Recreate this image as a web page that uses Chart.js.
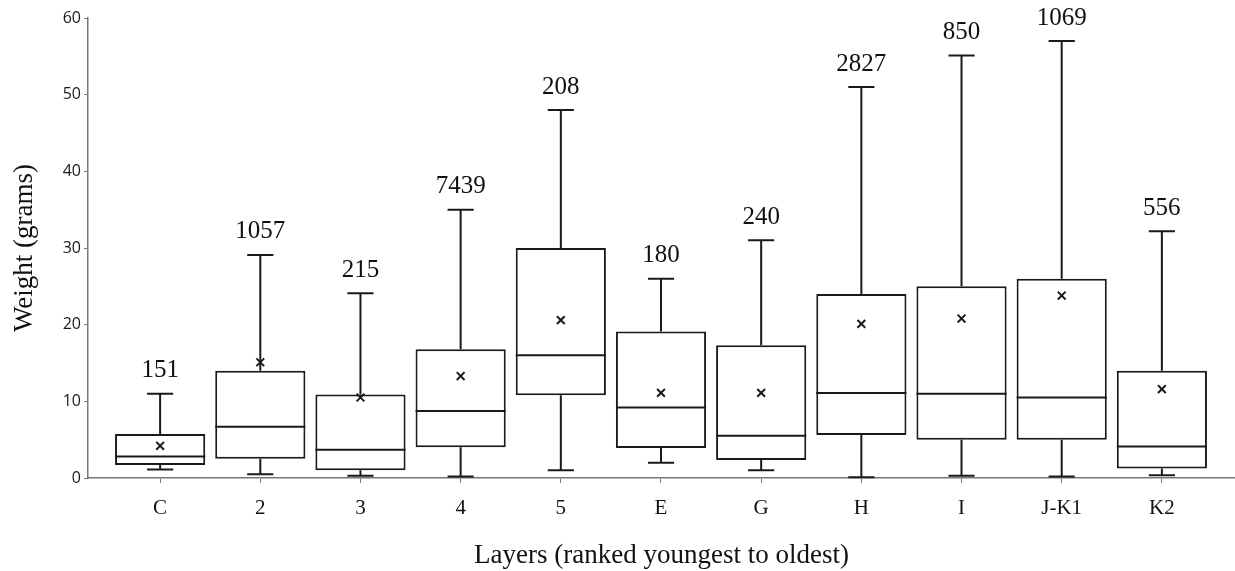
<!DOCTYPE html>
<html>
<head>
<meta charset="utf-8">
<script src="https://cdn.jsdelivr.net/npm/chart.js@4/dist/chart.umd.min.js"></script>
<style>
  html, body { margin: 0; padding: 0; background: #fff; }
  #wrap { width: 1235px; height: 571px; }
</style>
</head>
<body>
<div id="wrap"><canvas id="c" width="1235" height="571"></canvas></div>
<script>
const categories = ['C', '2', '3', '4', '5', 'E', 'G', 'H', 'I', 'J-K1', 'K2'];
const whiskerMin = [1.1, 0.5, 0.3, 0.2, 1.0, 2.0, 1.0, 0.1, 0.3, 0.2, 0.35];
const q1 = [1.7, 2.5, 1.0, 4.0, 10.8, 3.9, 2.35, 5.6, 5.0, 5.0, 1.25];
const median = [2.8, 6.7, 3.7, 8.75, 16.0, 9.2, 5.5, 11.1, 11.0, 10.5, 4.1];
const q3 = [5.75, 14.0, 10.9, 16.8, 30.0, 19.1, 17.3, 24.0, 25.0, 26.0, 14.0];
const whiskerMax = [11.0, 29.1, 24.1, 35.0, 48.0, 26.0, 31.0, 51.0, 55.1, 57.0, 32.2];
const means = [4.2, 15.1, 10.5, 13.3, 20.6, 11.1, 11.1, 20.1, 20.8, 23.8, 11.6];
const counts = [151, 1057, 215, 7439, 208, 180, 240, 2827, 850, 1069, 556];
const yTicks = [0, 10, 20, 30, 40, 50, 60];

const LINE = '#1a1a1a';
const SERIF = '"Liberation Serif", "Times New Roman", serif';

const boxPlugin = {
  id: 'boxParts',
  beforeDatasetsDraw(chart) {
    const ctx = chart.ctx;
    const xs = chart.scales.x, ys = chart.scales.y;
    const meta = chart.getDatasetMeta(0);
    ctx.save();
    ctx.strokeStyle = LINE;
    ctx.lineWidth = 2;
    categories.forEach((c, i) => {
      const x = xs.getPixelForValue(i);
      const capHalf = meta.data[i].width * 0.145;
      const yMin = ys.getPixelForValue(whiskerMin[i]);
      const yMax = ys.getPixelForValue(whiskerMax[i]);
      const yQ1 = ys.getPixelForValue(q1[i]);
      const yQ3 = ys.getPixelForValue(q3[i]);
      ctx.beginPath();
      ctx.moveTo(x, yMax); ctx.lineTo(x, yQ3);
      ctx.moveTo(x, yQ1); ctx.lineTo(x, yMin);
      ctx.moveTo(x - capHalf, yMax); ctx.lineTo(x + capHalf, yMax);
      ctx.moveTo(x - capHalf, yMin); ctx.lineTo(x + capHalf, yMin);
      ctx.stroke();
    });
    ctx.restore();
  },
  afterDatasetDraw(chart, args) {
    if (args.index !== 0) return;
    const ctx = chart.ctx;
    const xs = chart.scales.x, ys = chart.scales.y;
    const meta = chart.getDatasetMeta(0);
    ctx.save();
    ctx.strokeStyle = LINE;
    ctx.lineWidth = 2;
    categories.forEach((c, i) => {
      const x = xs.getPixelForValue(i);
      const half = meta.data[i].width / 2;
      const yMed = ys.getPixelForValue(median[i]);
      ctx.beginPath();
      ctx.moveTo(x - half, yMed); ctx.lineTo(x + half, yMed);
      ctx.stroke();
    });
    ctx.restore();
  },
  afterDatasetsDraw(chart) {
    const ctx = chart.ctx;
    const xs = chart.scales.x, ys = chart.scales.y;
    ctx.save();
    ctx.fillStyle = '#111';
    ctx.font = '25px ' + SERIF;
    ctx.textAlign = 'center';
    ctx.textBaseline = 'middle';
    categories.forEach((c, i) => {
      ctx.fillText(String(counts[i]), xs.getPixelForValue(i), ys.getPixelForValue(whiskerMax[i]) - 23);
    });
    ctx.restore();
  }
};

new Chart(document.getElementById('c'), {
  type: 'bar',
  data: {
    datasets: [
      {
        type: 'bar',
        data: categories.map((c, i) => ({ x: i, y: [q1[i], q3[i]] })),
        backgroundColor: '#ffffff',
        borderColor: LINE,
        borderWidth: 2,
        borderSkipped: false,
        barPercentage: 0.9,
        categoryPercentage: 1.0,
        order: 2
      },
      {
        type: 'scatter',
        data: categories.map((c, i) => ({ x: i, y: means[i] })),
        pointStyle: 'crossRot',
        pointRadius: 5.5,
        borderColor: LINE,
        borderWidth: 2,
        showLine: false,
        clip: false,
        order: 1
      }
    ]
  },
  options: {
    responsive: false,
    animation: false,
    devicePixelRatio: 1,
    layout: { autoPadding: false, padding: { top: 18, right: 0, left: 0, bottom: 0 } },
    plugins: { legend: { display: false }, tooltip: { enabled: false } },
    scales: {
      x: {
        type: 'linear',
        offset: false,
        min: -0.72,
        max: 10.73,
        afterFit(s) { s.height = 93; s.paddingRight = 0; s.paddingLeft = 0; },
        afterBuildTicks(s) { s.ticks = categories.map((c, i) => ({ value: i })); },
        ticks: {
          callback: (v) => categories[v],
          autoSkip: false,
          maxRotation: 0,
          color: '#111',
          padding: 15,
          font: { family: SERIF, size: 21, lineHeight: 1 }
        },
        grid: { offset: false, drawOnChartArea: false, drawTicks: true, tickLength: 5, color: '#777', lineWidth: 1 },
        border: { display: true, color: '#777', width: 1.5 },
        title: {
          display: true,
          text: 'Layers (ranked youngest to oldest)',
          color: '#111',
          font: { family: SERIF, size: 27, lineHeight: 1 },
          padding: { top: 0, bottom: 2 }
        }
      },
      y: {
        min: 0,
        max: 60,
        afterFit(s) { s.width = 88; },
        afterBuildTicks(s) { s.ticks = yTicks.map(v => ({ value: v })); },
        ticks: {
          color: '#1a1a1a',
          padding: 3,
          font: { family: '"Open Sans", sans-serif', size: 16 }
        },
        grid: { drawOnChartArea: false, drawTicks: true, tickLength: 4, color: '#777', lineWidth: 1 },
        border: { display: true, color: '#777', width: 1.5 },
        title: {
          display: true,
          text: 'Weight (grams)',
          color: '#111',
          font: { family: SERIF, size: 27, lineHeight: 1 },
          padding: { top: 11, bottom: 0 }
        }
      }
    }
  },
  plugins: [boxPlugin]
});
</script>
</body>
</html>
